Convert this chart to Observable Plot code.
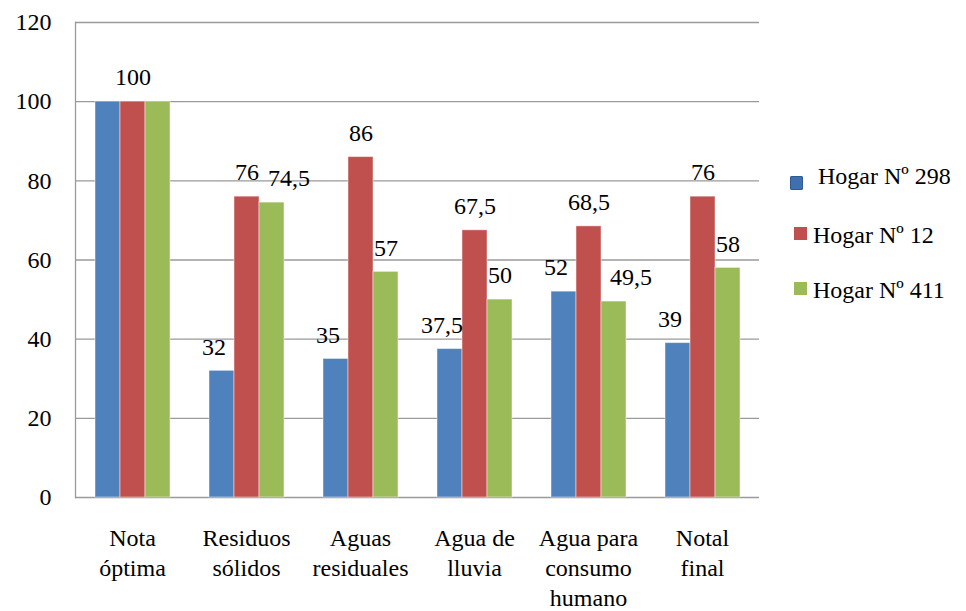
<!DOCTYPE html>
<html>
<head>
<meta charset="utf-8">
<script src="https://cdn.jsdelivr.net/npm/d3@7"></script>
<script src="https://cdn.jsdelivr.net/npm/@observablehq/plot@0.6"></script>
<style>
  html, body { margin: 0; padding: 0; background: #fff; }
  #wrap { position: relative; width: 966px; height: 611px; font-family: "Liberation Serif", "Times New Roman", "Liberation Sans", Arial, sans-serif; }
  #legend { position: absolute; left: 0; top: 0; width: 966px; height: 611px; pointer-events: none; }
  .li { position: absolute; font-size: 24px; color: #000; white-space: nowrap; line-height: 24px; }
  .sw { position: absolute; }
</style>
</head>
<body>
<div id="wrap"><div id="chart"></div><div id="legend"></div></div>
<script>
const categories = ["Nota óptima", "Residuos sólidos", "Aguas residuales", "Agua de lluvia", "Agua para consumo humano", "Notal final"];
const categoryLabels = ["Nota\nóptima", "Residuos\nsólidos", "Aguas\nresiduales", "Agua de\nlluvia", "Agua para\nconsumo\nhumano", "Notal\nfinal"];
const series = ["Hogar Nº 298", "Hogar Nº 12", "Hogar Nº 411"];
const hogar298 = [100, 32, 35, 37.5, 52, 39];
const hogar12 = [100, 76, 86, 67.5, 68.5, 76];
const hogar411 = [100, 74.5, 57, 50, 49.5, 58];
const colors = ["#4F81BD", "#C0504D", "#9BBB59"];
const yTicks = [0, 20, 40, 60, 80, 100, 120];

const valuesBySeries = [hogar298, hogar12, hogar411];
const rows = [];
series.forEach((s, si) => categories.forEach((c, ci) => rows.push({cat: c, serie: s, value: valuesBySeries[si][ci], si, ci})));

const fmt = v => String(v).replace(".", ",");
const labelMap = new Map(categories.map((c, i) => [c, categoryLabels[i]]));

// labels: "Nota óptima" only shows the red label
const shown = rows.filter(d => !(d.ci === 0 && d.si !== 1));
const blueLabels = shown.filter(d => d.si === 0);
const redLabels = shown.filter(d => d.si === 1);
const greenInt = shown.filter(d => d.si === 2 && Number.isInteger(d.value));
const greenDec = shown.filter(d => d.si === 2 && !Number.isInteger(d.value));

const font = "'Liberation Serif', 'Times New Roman', 'Liberation Sans', Arial, sans-serif";
const FS = 24;
const textOpts = (dx) => ({
  fx: "cat", x: "serie", y: "value", text: d => fmt(d.value),
  dy: -24, dx, fontSize: FS, fill: "#000", fontFamily: font
});

const chart = Plot.plot({
  width: 966,
  height: 611,
  marginLeft: 74,
  marginRight: 206,
  marginTop: 22,
  marginBottom: 114,
  style: {fontFamily: font, fontSize: FS + "px", color: "#000", background: "#fff"},
  fx: {domain: categories, padding: 0, label: null},
  x: {domain: series, paddingInner: 0, paddingOuter: 0.75, axis: null},
  y: {domain: [0, 120], label: null},
  color: {domain: series, range: colors},
  marks: [
    Plot.ruleY(yTicks, {stroke: "#9a9a9a", strokeWidth: 1.3}),
    Plot.barY(rows, {fx: "cat", x: "serie", y: "value", fill: "serie", stroke: "#fff", strokeOpacity: 0.45, strokeWidth: 1}),
    Plot.text(blueLabels, textOpts(-8)),
    Plot.text(redLabels, textOpts(0)),
    Plot.text(greenInt, textOpts(0)),
    Plot.text(greenDec, textOpts(17)),
    Plot.axisY({ticks: yTicks, tickSize: 0, tickPadding: 24, fontSize: FS, fontFamily: font, label: null, tickFormat: d => String(d)}),
    Plot.axisFx({anchor: "bottom", tickSize: 0, tickPadding: 27, fontSize: FS, fontFamily: font, label: null, lineHeight: 1.25, lineAnchor: "top", tickFormat: d => labelMap.get(d)}),
    Plot.frame({anchor: "left", facetAnchor: "left", stroke: "#9a9a9a", strokeWidth: 1.3})
  ]
});
document.getElementById("chart").appendChild(chart);

// legend (HTML overlay)
const legend = document.getElementById("legend");
const legendPos = [
  {sx: 790, sy: 176, sw: 13, sh: 14, tx: 818, ty: 164, round: true},
  {sx: 794, sy: 227, sw: 13, sh: 13, tx: 813, ty: 223, round: false},
  {sx: 794, sy: 282, sw: 13, sh: 13, tx: 813, ty: 278, round: false}
];
series.forEach((s, i) => {
  const p = legendPos[i];
  const sw = document.createElement("div");
  sw.className = "sw";
  sw.style.left = p.sx + "px"; sw.style.top = p.sy + "px";
  sw.style.width = p.sw + "px"; sw.style.height = p.sh + "px";
  sw.style.background = i === 0 ? "#3f6fae" : colors[i];
  if (p.round) { sw.style.borderRadius = "2px"; sw.style.boxShadow = "inset 0 0 0 1px #2f5a92"; }
  legend.appendChild(sw);
  const t = document.createElement("div");
  t.className = "li";
  t.style.left = p.tx + "px"; t.style.top = p.ty + "px";
  t.textContent = s;
  legend.appendChild(t);
});
</script>
</body>
</html>
